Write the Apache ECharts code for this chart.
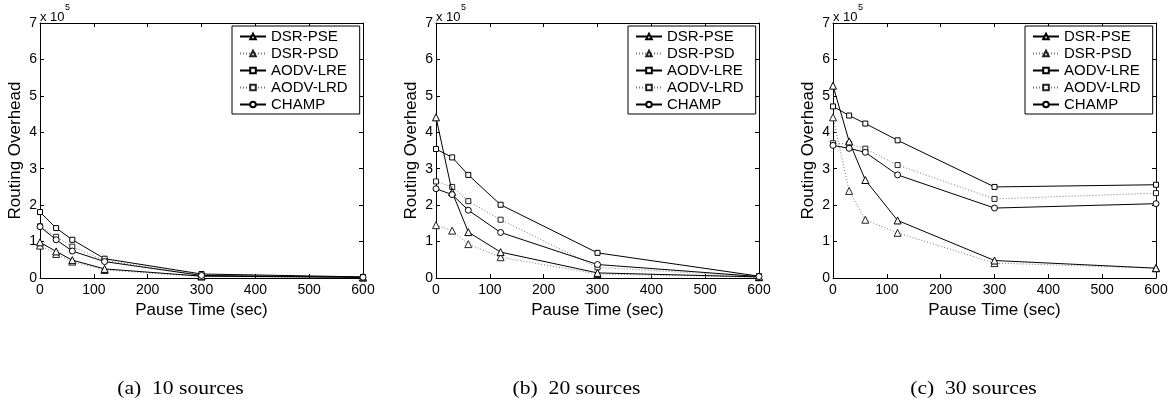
<!DOCTYPE html>
<html>
<head>
<meta charset="utf-8">
<script src="https://cdn.jsdelivr.net/npm/echarts@6/dist/echarts.min.js"></script>
<style>
html,body{margin:0;padding:0;background:#fff;}
#chart{width:1173px;height:408px;}
</style>
</head>
<body>
<div id="chart"></div>
<script>
// Pause times (sec)
const pauseTimes = [0, 30, 60, 120, 300, 600];
const seriesNames = ['DSR-PSE', 'DSR-PSD', 'AODV-LRE', 'AODV-LRD', 'CHAMP'];
const captions = ['(a)  10 sources', '(b)  20 sources', '(c)  30 sources'];
const xTicks = [0, 100, 200, 300, 400, 500, 600];
const yTicks = [0, 1, 2, 3, 4, 5, 6, 7];

// Routing overhead, in units of 10^5
// (a) 10 sources
const a_dsrPSE  = [0.98, 0.73, 0.49, 0.25, 0.05, 0.02];
const a_dsrPSD  = [0.89, 0.66, 0.45, 0.22, 0.04, 0.01];
const a_aodvLRE = [1.81, 1.37, 1.05, 0.53, 0.11, 0.03];
const a_aodvLRD = [1.42, 1.13, 0.86, 0.48, 0.08, 0.02];
const a_champ   = [1.41, 1.05, 0.74, 0.45, 0.07, 0.02];
// (b) 20 sources
const b_dsrPSE  = [4.41, 2.36, 1.26, 0.71, 0.14, 0.03];
const b_dsrPSD  = [1.45, 1.30, 0.93, 0.57, 0.11, 0.02];
const b_aodvLRE = [3.54, 3.31, 2.83, 2.01, 0.69, 0.05];
const b_aodvLRD = [2.65, 2.50, 2.11, 1.60, 0.29, 0.04];
const b_champ   = [2.45, 2.29, 1.86, 1.25, 0.37, 0.04];
// (c) 30 sources
const c_dsrPSE  = [5.28, 3.75, 2.69, 1.58, 0.48, 0.27];
const c_dsrPSD  = [4.41, 2.39, 1.60, 1.24, 0.41, 0.27];
const c_aodvLRE = [4.71, 4.46, 4.24, 3.78, 2.50, 2.56];
const c_aodvLRD = [3.70, 3.68, 3.55, 3.10, 2.17, 2.33];
const c_champ   = [3.64, 3.56, 3.45, 2.83, 1.92, 2.04];

const panels = [
  [a_dsrPSE, a_dsrPSD, a_aodvLRE, a_aodvLRD, a_champ],
  [b_dsrPSE, b_dsrPSD, b_aodvLRE, b_aodvLRD, b_champ],
  [c_dsrPSE, c_dsrPSD, c_aodvLRE, c_aodvLRD, c_champ]
];

const FONT = 'Liberation Sans';
const gridLefts = [40, 436, 833];
const gridWidth = 323;
const gridTop = 23;
const gridHeight = 255;

const styles = [
  {symbol: 'triangle', size: 7, dotted: false},
  {symbol: 'triangle', size: 7, dotted: true},
  {symbol: 'rect', size: 5, dotted: false},
  {symbol: 'rect', size: 5, dotted: true},
  {symbol: 'circle', size: 6, dotted: false}
];

const grids = [], xAxes = [], yAxes = [], series = [], legends = [], graphics = [];

gridLefts.forEach((left, p) => {
  grids.push({left: left, top: gridTop, width: gridWidth, height: gridHeight, show: false, containLabel: false});
  const tickCommon = {show: true, inside: true, length: 4, lineStyle: {color: '#000', width: 1}};
  const lineCommon = {show: true, onZero: false, lineStyle: {color: '#000', width: 1}};
  // bottom x
  xAxes.push({
    type: 'value', gridIndex: p, position: 'bottom', min: xTicks[0], max: xTicks[xTicks.length - 1], interval: 100,
    name: 'Pause Time (sec)', nameLocation: 'middle', nameGap: 19,
    nameTextStyle: {fontFamily: FONT, fontSize: 17, color: '#000'},
    axisLine: lineCommon, axisTick: tickCommon, splitLine: {show: false},
    axisLabel: {fontFamily: FONT, fontSize: 14, color: '#000', margin: 5}
  });
  // top x (box + ticks)
  xAxes.push({
    type: 'value', gridIndex: p, position: 'top', min: xTicks[0], max: xTicks[xTicks.length - 1], interval: 100,
    axisLine: lineCommon, axisTick: tickCommon, splitLine: {show: false}, axisLabel: {show: false}
  });
  // left y
  yAxes.push({
    type: 'value', gridIndex: p, position: 'left', min: yTicks[0], max: yTicks[yTicks.length - 1], interval: 1,
    name: 'Routing Overhead', nameLocation: 'middle', nameGap: 16,
    nameTextStyle: {fontFamily: FONT, fontSize: 17, color: '#000'},
    axisLine: lineCommon, axisTick: tickCommon, splitLine: {show: false},
    axisLabel: {fontFamily: FONT, fontSize: 14, color: '#000', margin: 3}
  });
  // right y
  yAxes.push({
    type: 'value', gridIndex: p, position: 'right', min: yTicks[0], max: yTicks[yTicks.length - 1], interval: 1,
    axisLine: lineCommon, axisTick: tickCommon, splitLine: {show: false}, axisLabel: {show: false}
  });

  panels[p].forEach((vals, i) => {
    const st = styles[i];
    series.push({
      name: seriesNames[i], type: 'line', xAxisIndex: p * 2, yAxisIndex: p * 2,
      data: pauseTimes.map((t, k) => [t, vals[k]]),
      symbol: st.symbol, symbolSize: st.size, showSymbol: true,
      lineStyle: st.dotted ? {color: '#777', width: 1, type: [1, 2]} : {color: '#000', width: 1, type: 'solid'},
      itemStyle: {color: '#fff', borderColor: st.dotted ? '#222' : '#000', borderWidth: 1},
      emphasis: {disabled: true}, animation: false, z: st.dotted ? 2 : 3
    });
  });

  legends.push({
    show: true, orient: 'vertical', left: left + 192, top: 26,
    data: seriesNames,
    backgroundColor: '#fff', borderColor: '#000', borderWidth: 1,
    padding: [3, 12, 2, 7], itemGap: 2, itemWidth: 26, itemHeight: 7,
    textStyle: {fontFamily: FONT, fontSize: 15, color: '#000', lineHeight: 15},
    selectedMode: false
  });

  graphics.push({type: 'text', left: left, top: 11, style: {text: 'x 10', fontFamily: FONT, fontSize: 13, fill: '#000'}});
  graphics.push({type: 'text', left: left + 25, top: 3, style: {text: '5', fontFamily: FONT, fontSize: 9, fill: '#000'}});
  graphics.push({
    type: 'text', x: left + gridWidth / 2 - 21, y: 389, scaleX: 1.2,
    style: {text: captions[p], fontFamily: 'Liberation Serif', fontSize: 18, fill: '#000', align: 'center', verticalAlign: 'middle'}
  });
});

const chart = echarts.init(document.getElementById('chart'), null, {renderer: 'canvas'});
chart.setOption({
  animation: false,
  backgroundColor: '#fff',
  grid: grids, xAxis: xAxes, yAxis: yAxes, series: series, legend: legends, graphic: graphics
});
</script>
</body>
</html>
